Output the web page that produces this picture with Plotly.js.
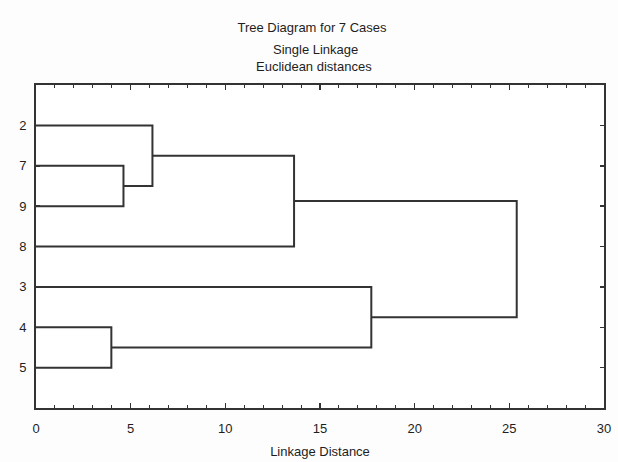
<!DOCTYPE html>
<html>
<head>
<meta charset="utf-8">
<script src="https://cdn.plot.ly/plotly-3.0.1.min.js"></script>
<style>html,body{margin:0;padding:0;background:#fdfdfd;}#chart{width:618px;height:462px;}</style>
</head>
<body>
<div id="chart"></div>
<script>
// Leaf cases, in display order (top to bottom)
const caseLabels = ['2', '7', '9', '8', '3', '4', '5'];
// Merge steps: node ids (0..6 = leaves, 7+ = new clusters in merge order)
const mergeLeft  = [1, 0, 8, 5, 4, 9];
const mergeRight = [2, 7, 3, 6, 10, 11];
const mergeDist  = [4.62, 6.15, 13.63, 3.98, 17.71, 25.39];
const xTicks = [0, 5, 10, 15, 20, 25, 30];

// Build dendrogram segments from the data
const nodeY = caseLabels.map((_, i) => i + 1);
const nodeX = caseLabels.map(() => 0);
const xs = [], ys = [];
for (let k = 0; k < mergeDist.length; k++) {
  const a = mergeLeft[k], b = mergeRight[k], h = mergeDist[k];
  xs.push(nodeX[a], h, h, nodeX[b], null);
  ys.push(nodeY[a], nodeY[a], nodeY[b], nodeY[b], null);
  nodeY.push((nodeY[a] + nodeY[b]) / 2);
  nodeX.push(h);
}

const trace = {
  x: xs, y: ys, type: 'scatter', mode: 'lines',
  line: {color: '#333333', width: 2},
  hoverinfo: 'skip', showlegend: false
};

const fnt = {family: 'Liberation Sans, Arial, sans-serif', size: 13, color: '#1e1e1e'};

const layout = {
  width: 618, height: 462,
  paper_bgcolor: '#fdfdfd', plot_bgcolor: '#ffffff',
  margin: {l: 36, r: 14, t: 85, b: 54},
  font: fnt,
  title: {text: 'Tree Diagram for 7 Cases', font: fnt, x: 312 / 618, xanchor: 'center', y: 1 - 27/462, yanchor: 'middle', yref: 'container'},
  annotations: [
    {text: 'Single Linkage', xref: 'paper', yref: 'paper', x: (315 - 36) / 568, y: 1 + (85 - 49) / 323, xanchor: 'center', yanchor: 'middle', showarrow: false, font: fnt},
    {text: 'Euclidean distances', xref: 'paper', yref: 'paper', x: (313.5 - 36) / 568, y: 1 + (85 - 66) / 323, xanchor: 'center', yanchor: 'middle', showarrow: false, font: fnt}
  ],
  xaxis: {
    range: [0, 30], tickvals: xTicks, ticktext: xTicks.map(String),
    ticks: 'inside', ticklen: 5, tickwidth: 1.5, tickcolor: '#333',
    minor: {dtick: 1, ticks: 'inside', ticklen: 3, tickwidth: 1, tickcolor: '#333', showgrid: false},
    showline: true, linecolor: '#333', linewidth: 2, mirror: 'allticks',
    showgrid: false, zeroline: false, ticklabelstandoff: 7,
    title: {text: 'Linkage Distance', font: fnt, standoff: 12}
  },
  yaxis: {
    range: [8, 0], tickvals: caseLabels.map((_, i) => i + 1), ticktext: caseLabels,
    ticks: 'inside', ticklen: 4, tickwidth: 1.5, tickcolor: '#333',
    showline: true, linecolor: '#333', linewidth: 2, mirror: 'allticks',
    showgrid: false, zeroline: false, ticklabelstandoff: 5
  }
};

Plotly.newPlot('chart', [trace], layout, {displayModeBar: false, staticPlot: true});
</script>
</body>
</html>
